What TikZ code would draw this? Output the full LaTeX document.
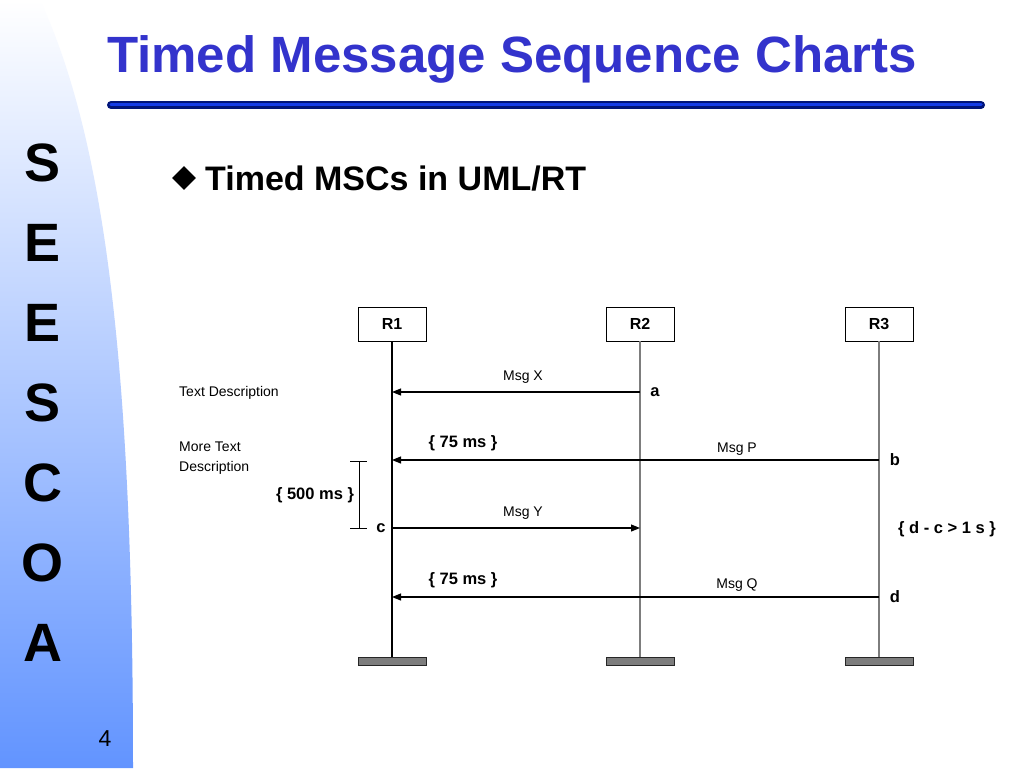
\documentclass[tikz,border=0pt]{standalone}
\usepackage{fontspec}
\setmainfont{Liberation Sans}
\usetikzlibrary{arrows.meta,shapes.geometric}
\definecolor{titleblue}{RGB}{51,51,204}
\definecolor{bandblue}{RGB}{98,148,255}
\definecolor{bardark}{RGB}{0,20,120}
\definecolor{barlight}{RGB}{20,60,230}
\definecolor{lifegray}{RGB}{125,125,125}

\begin{document}
\begin{tikzpicture}[x=1pt,y=-1pt,
  headbox/.style={draw, line width=0.8pt, minimum width=68pt, minimum height=34pt, inner sep=0pt, font=\fontsize{16}{18}\selectfont\bfseries},
  endbar/.style={draw=black!85, fill=lifegray, line width=0.8pt, minimum width=68pt, minimum height=8pt, inner sep=0pt},
  msg/.style={line width=1.1pt, -{Triangle[length=9pt,width=7pt]}},
  lbl/.style={font=\fontsize{14}{16}\selectfont, inner sep=0pt},
  evt/.style={font=\fontsize{16.5}{18}\selectfont\bfseries, inner sep=0pt},
  bandletter/.style={font=\fontsize{54}{58}\selectfont\bfseries, inner sep=0pt}]
\useasboundingbox (0,0) rectangle (1024,768);
\fill[white] (0,0) rectangle (1024,768);
\shade[top color=white, bottom color=bandblue] (0,0) -- (40,0) .. controls (110,150) and (133,400) .. (133,768) -- (0,768) -- cycle;
\node[bandletter] (s1) at (43,163) {S};
\node[bandletter] (e1) at (43,243) {E};
\node[bandletter] (e2) at (43,323) {E};
\node[bandletter] (s2) at (43,403) {S};
\node[bandletter] (c1) at (43,483) {C};
\node[bandletter] (o1) at (43,563) {O};
\node[bandletter] (a1) at (43,643) {A};
\node[font=\fontsize{23}{26}\selectfont, inner sep=0pt] (page) at (105,739) {4};
\node[anchor=base west, text=titleblue, font=\fontsize{51}{55}\selectfont\bfseries, inner sep=0pt] (title) at (107,72) {Timed Message Sequence Charts};
\draw[line width=8pt, line cap=round, bardark] (111,105) -- (981,105);
\draw[line width=3.5pt, line cap=round, barlight] (111,104.5) -- (981,104.5);
\node[diamond, fill=black, minimum size=24pt, inner sep=0pt] (bullet) at (184,178) {};
\node[anchor=base west, font=\fontsize{34}{38}\selectfont\bfseries, inner sep=0pt] (sub) at (205,190) {Timed MSCs in UML/RT};
\node[headbox] (r1) at (392,324) {R1};
\node[headbox] (r2) at (640,324) {R2};
\node[headbox] (r3) at (879,324) {R3};
\node[endbar] (end1) at (392,661) {};
\node[endbar] (end2) at (640,661) {};
\node[endbar] (end3) at (879,661) {};
\draw[line width=1.3pt] (r1.south) -- (end1.north);
\draw[line width=1.3pt, lifegray] (r2.south) -- (end2.north);
\draw[line width=1.3pt, lifegray] (r3.south) -- (end3.north);
\coordinate (xa) at (640,392);
\coordinate (xr1) at (392,392);
\coordinate (pb) at (879,460);
\coordinate (pr1) at (392,460);
\coordinate (yc) at (392,528);
\coordinate (yr2) at (640,528);
\coordinate (qd) at (879,597);
\coordinate (qr1) at (392,597);
\draw[msg] (xa) -- (xr1);
\draw[msg] (pb) -- (pr1);
\draw[msg] (yc) -- (yr2);
\draw[msg] (qd) -- (qr1);
\node[lbl] (msgx) at (523,377) {Msg X};
\node[lbl] (msgp) at (737,449) {Msg P};
\node[lbl] (msgy) at (523,513) {Msg Y};
\node[lbl] (msgq) at (737,585) {Msg Q};
\node[evt] (eva) at (655,392) {a};
\node[evt] (evb) at (895,460) {b};
\node[evt] (evc) at (381,528) {c};
\node[evt] (evd) at (895,597) {d};
\node[evt] (dly1) at (463,443) {\{ 75 ms \}};
\node[evt] (dly2) at (463,580) {\{ 75 ms \}};
\node[evt] (dly3) at (315,495) {\{ 500 ms \}};
\node[evt] (cons) at (947,529) {\{ d - c > 1 s \}};
\draw[line width=1pt] (350,461) -- (367,461) (359,461) -- (359,528) (350,528) -- (367,528);
\node[lbl, anchor=west] (txt1) at (179,393) {Text Description};
\node[lbl, anchor=north west, align=left, font=\fontsize{14}{20}\selectfont] (txt2) at (179,442) {More Text\\Description};
\end{tikzpicture}
\end{document}
